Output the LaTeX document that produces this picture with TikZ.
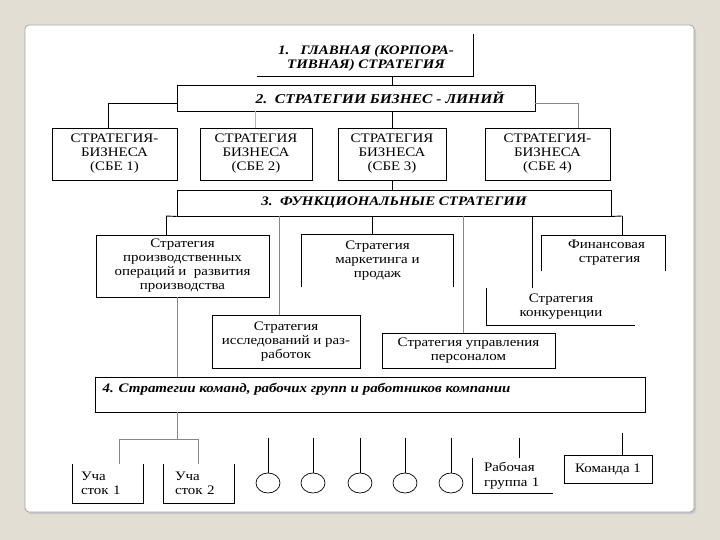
\documentclass[tikz,border=0pt]{standalone}
\usepackage{fontspec}
\setmainfont[FakeStretch=1.15]{Liberation Serif}
\usetikzlibrary{shapes.geometric}
\definecolor{pagebg}{RGB}{227,222,212}
\definecolor{framegray}{RGB}{165,165,165}
\definecolor{scangray}{RGB}{135,135,135}
\begin{document}
\begin{tikzpicture}[x=1pt,y=-1pt,
  ln/.style={line width=0.9pt,draw=black},
  gl/.style={line width=0.9pt,draw=scangray},
  bx/.style={draw=black,line width=0.9pt,inner sep=0pt,rectangle},
  ob/.style={inner sep=0pt,rectangle},
  hd/.style={font=\fontsize{13}{14.5}\selectfont\bfseries\itshape},
  tx/.style={font=\fontsize{13}{14}\selectfont,align=center},
  txl/.style={font=\fontsize{13}{14.5}\selectfont,align=left},
  ov/.style={ellipse,draw=black,line width=0.7pt,minimum width=24pt,minimum height=20pt,inner sep=0pt}
]
\useasboundingbox (0,0) rectangle (720,540);
\fill[pagebg] (0,0) rectangle (720,540);
\fill[black!22,rounded corners=4pt] (27,27) rectangle (696,514);
\draw[framegray,fill=white,rounded corners=4pt,line width=0.8pt] (25,25) rectangle (694,512);

% level 1
\node[ob,minimum width=216pt,minimum height=42pt] (b1) at (365,55) {};
\node[hd,align=center] (b1t) at (366,58.5) {1.\ \ \ ГЛАВНАЯ (КОРПОРА-\\ТИВНАЯ) СТРАТЕГИЯ};
\draw[ln] (b1.north east) -- (b1.south east) -- (b1.south west);

% level 2
\node[bx,minimum width=358pt,minimum height=26pt] (b2) at (356,98) {};
\node[hd,font=\fontsize{13.5}{15}\selectfont\bfseries\itshape] (b2t) at (380,98) {2.\ \ СТРАТЕГИИ БИЗНЕС - ЛИНИЙ};

\node[bx,tx,minimum width=125pt,minimum height=52pt] (s1) at (114.5,154) {СТРАТЕГИЯ-\\БИЗНЕСА\\(СБЕ 1)};
\node[bx,tx,minimum width=112pt,minimum height=52pt] (s2) at (256,154) {СТРАТЕГИЯ\\БИЗНЕСА\\(СБЕ 2)};
\node[bx,tx,minimum width=108pt,minimum height=52pt] (s3) at (392,154) {СТРАТЕГИЯ\\БИЗНЕСА\\(СБЕ 3)};
\node[bx,tx,minimum width=125pt,minimum height=52pt] (s4) at (547.5,154) {СТРАТЕГИЯ-\\БИЗНЕСА\\(СБЕ 4)};

\draw[ln] (b1.south -| s3.north) -- (b2.north -| s3.north);
\coordinate (kL) at (108,103);
\coordinate (kR) at (578,103);
\coordinate (k2) at (255,111);
\draw[ln] (b2.west |- kL) -- (kL) -- (kL |- s1.north);
\draw[gl,draw=black!30] (k2) -- (k2 |- s2.north);
\draw[ln] (b2.south -| s3.north) -- (s3.north);
\draw[gl] (b2.east |- kR) -- (kR) -- (kR |- s4.north);

% level 3
\node[bx,hd,minimum width=434pt,minimum height=26pt] (b3) at (394,203) {3.\ \ ФУНКЦИОНАЛЬНЫЕ СТРАТЕГИИ};
\draw[ln] (s3.south) -- (b3.north -| s3.south);

\node[bx,tx,minimum width=173pt,minimum height=62pt] (prod) at (182.5,266) {Стратегия\\производственных\\операций и\ \ развития\\производства};
\node[ob,tx,minimum width=151pt,minimum height=52pt] (mkt) at (377.5,261) {Стратегия\\маркетинга и\\продаж};
\draw[ln] (mkt.south west) -- (mkt.north west) -- (mkt.north east) -- (mkt.south east);
\node[ob,tx,minimum width=123pt,minimum height=35pt] (fin) at (603.5,253) {\hspace*{6pt}Финансовая\\\hspace*{12pt}стратегия};
\draw[ln] (fin.south west) -- (fin.north west) -- (fin.north east) -- (fin.south east);
\node[ob,tx,minimum width=148pt,minimum height=37pt] (comp) at (561,306.5) {Стратегия\\конкуренции};
\draw[ln] (comp.north west) -- (comp.south west) -- (comp.south east);
\node[bx,tx,minimum width=148pt,minimum height=53pt] (rnd) at (286,341.5) {Стратегия\\исследований и раз-\\работок};
\node[bx,tx,minimum width=173pt,minimum height=35pt] (pers) at (468.5,350.5) {Стратегия управления\\персоналом};

\coordinate (busL) at (166,216);
\coordinate (busR) at (622,216);
\coordinate (dR) at (279,216);
\coordinate (dM) at (372,216);
\coordinate (dP) at (463,216);
\coordinate (dC) at (532,216);
\draw[ln] (busL) -- (b3.south west);
\draw[ln] (b3.south east) -- (busR);
\draw[ln] (busL) -- (busL |- prod.north);
\draw[gl] (dR) -- (dR |- rnd.north);
\draw[ln] (dM) -- (dM |- mkt.north);
\draw[gl] (dP) -- (dP |- pers.north);
\draw[ln] (dC) -- (dC |- comp.north);
\draw[ln] (busR) -- (busR |- fin.north);

% level 4
\node[bx,minimum width=550pt,minimum height=35pt] (b4) at (370,394.5) {};
\node[hd,anchor=west] (b4t) at (99,389) {4. Стратегии команд, рабочих групп и работников компании};
\coordinate (j) at (177,439);
\draw[gl] (j |- prod.south) -- (j |- b4.north);
\draw[gl] (j |- b4.south) -- (j);

% bottom row
\node[ob,txl,minimum width=70pt,minimum height=39pt,text width=54pt] (u1) at (108,483.5) {Уча\\сток 1};
\node[ob,txl,minimum width=70pt,minimum height=39pt,text width=48pt] (u2) at (199,483.5) {Уча\\сток 2};
\draw[ln] (u1.north west) -- (u1.south west) -- (u1.south east) -- (u1.north east);
\draw[ln] (u2.north west) -- (u2.south west) -- (u2.south east) -- (u2.north east);
\coordinate (h1) at (119,439);
\coordinate (h2) at (198,439);
\draw[gl] (h1) -- (h2);
\draw[gl] (h1) -- (h1 |- u1.north);
\draw[gl] (h2) -- (h2 |- u2.north);

\node[ov] (o1) at (268,483) {};
\node[ov] (o2) at (313,483) {};
\node[ov] (o3) at (360,483) {};
\node[ov] (o4) at (405,483) {};
\node[ov] (o5) at (451,483) {};
\foreach \n in {o1,o2,o3,o4,o5}{
  \draw[ln] ([yshift=35pt]\n.north) -- (\n.north);
}

\node[ob,txl,minimum width=80pt,minimum height=35pt,text width=58pt] (rg) at (513,475.5) {Рабочая\\группа 1};
\draw[ln] (rg.north west) -- (rg.south west) -- (rg.south east);
\coordinate (trg) at (519,438);
\draw[ln] (trg) -- (trg |- rg.north);

\node[bx,tx,minimum width=88pt,minimum height=28pt] (k1) at (608,469) {Команда 1};
\coordinate (tk1) at (622,433);
\draw[ln] (tk1) -- (tk1 |- k1.north);
\end{tikzpicture}
\end{document}
